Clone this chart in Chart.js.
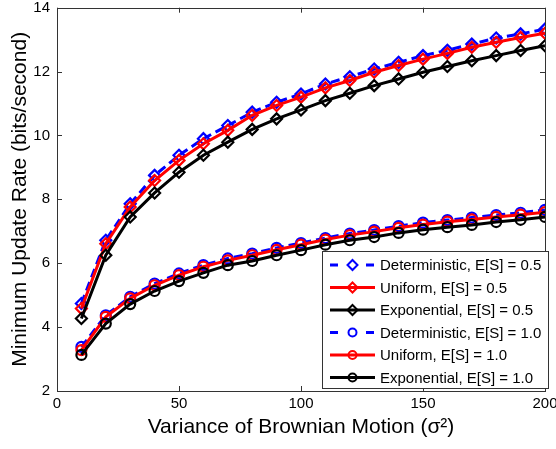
<!DOCTYPE html>
<html>
<head>
<meta charset="utf-8">
<script src="https://cdn.jsdelivr.net/npm/chart.js@4.4.1/dist/chart.umd.min.js"></script>
<style>
    html, body { margin: 0; padding: 0; background: #fff; }
    #box { width: 556px; height: 449px; }
</style>
</head>
<body>
<div id="box"><canvas id="grafico"></canvas></div>
<script>
// eixo x: variancia do movimento browniano
var variancia = [10, 20, 30, 40, 50, 60, 70, 80, 90, 100, 110, 120, 130, 140, 150, 160, 170, 180, 190, 200];

// E[S] = 0.5
var deterministico05 = [4.74, 6.72, 7.86, 8.75, 9.38, 9.90, 10.31, 10.73, 11.04, 11.30, 11.61, 11.84, 12.08, 12.29, 12.50, 12.67, 12.86, 13.05, 13.18, 13.33];
var uniforme05 = [4.58, 6.61, 7.76, 8.59, 9.22, 9.74, 10.16, 10.63, 10.94, 11.20, 11.49, 11.72, 11.98, 12.19, 12.39, 12.57, 12.76, 12.92, 13.07, 13.20];
var exponencial05 = [4.27, 6.25, 7.45, 8.20, 8.85, 9.38, 9.79, 10.19, 10.52, 10.80, 11.09, 11.32, 11.56, 11.77, 11.98, 12.16, 12.34, 12.50, 12.66, 12.81];

// E[S] = 1.0
var deterministico10 = [3.38, 4.37, 4.95, 5.36, 5.68, 5.94, 6.15, 6.30, 6.48, 6.63, 6.79, 6.93, 7.04, 7.16, 7.27, 7.35, 7.43, 7.51, 7.58, 7.67];
var uniforme10 = [3.28, 4.32, 4.90, 5.31, 5.63, 5.89, 6.09, 6.25, 6.42, 6.58, 6.74, 6.88, 6.99, 7.11, 7.21, 7.30, 7.37, 7.45, 7.52, 7.60];
var exponencial10 = [3.13, 4.11, 4.72, 5.13, 5.44, 5.70, 5.94, 6.07, 6.25, 6.41, 6.58, 6.72, 6.82, 6.95, 7.05, 7.13, 7.20, 7.29, 7.36, 7.45];

var legendas = [
    'Deterministic, E[S] = 0.5',
    'Uniform, E[S] = 0.5',
    'Exponential, E[S] = 0.5',
    'Deterministic, E[S] = 1.0',
    'Uniform, E[S] = 1.0',
    'Exponential, E[S] = 1.0'
];

var fonte = "'Liberation Sans', Arial, Helvetica, sans-serif";
var corEixo = '#333';

function pontos(arr) {
    return arr.map(function (v, i) { return { x: variancia[i], y: v }; });
}

function serie(label, dados, cor, marcador, tracejado, ordem) {
    return {
        label: label,
        data: pontos(dados),
        borderColor: cor,
        backgroundColor: 'rgba(0,0,0,0)',
        borderWidth: 3,
        borderDash: tracejado ? [9, 5] : [],
        pointStyle: marcador,
        pointRadius: marcador == 'circle' ? 5 : 5.5,
        pointBorderWidth: 2.2,
        pointBorderColor: cor,
        pointBackgroundColor: 'rgba(0,0,0,0)',
        tension: 0,
        order: ordem
    };
}

var datasets = [
    serie(legendas[0], deterministico05, '#0000ff', 'rectRot', true, 3),
    serie(legendas[1], uniforme05, '#ff0000', 'rectRot', false, 2),
    serie(legendas[2], exponencial05, '#000000', 'rectRot', false, 1),
    serie(legendas[3], deterministico10, '#0000ff', 'circle', true, 3),
    serie(legendas[4], uniforme10, '#ff0000', 'circle', false, 2),
    serie(legendas[5], exponencial10, '#000000', 'circle', false, 1)
];

function marcador(ctx, tipo, x, y, r) {
    ctx.beginPath();
    if (tipo == 'circle') {
        ctx.arc(x, y, r, 0, Math.PI * 2);
    } else {
        ctx.moveTo(x, y - r);
        ctx.lineTo(x + r, y);
        ctx.lineTo(x, y + r);
        ctx.lineTo(x - r, y);
        ctx.closePath();
    }
    ctx.stroke();
}

// tira a folga que o chart.js reserva para os rotulos das pontas
function semFolga(scale, tam) {
    if (scale.isHorizontal()) {
        scale.height = tam;
        scale.paddingLeft = 0;
        scale.paddingRight = 0;
    } else {
        scale.width = tam;
        scale.paddingTop = 0;
        scale.paddingBottom = 0;
    }
}

// caixa do grafico, ticks para dentro e legenda no estilo matlab
var moldura = {
    id: 'moldura',
    afterDraw: function (chart) {
        var ctx = chart.ctx;
        var a = chart.chartArea;
        var sx = chart.scales.x;
        var sy = chart.scales.y;

        ctx.save();
        ctx.strokeStyle = corEixo;
        ctx.lineWidth = 1;
        ctx.setLineDash([]);
        ctx.strokeRect(Math.round(a.left) + 0.5, Math.round(a.top) + 0.5, Math.round(a.right - a.left), Math.round(a.bottom - a.top));

        ctx.beginPath();
        sx.ticks.forEach(function (t) {
            var px = Math.round(sx.getPixelForValue(t.value)) + 0.5;
            ctx.moveTo(px, a.bottom); ctx.lineTo(px, a.bottom - 5);
            ctx.moveTo(px, a.top); ctx.lineTo(px, a.top + 5);
        });
        sy.ticks.forEach(function (t) {
            var py = Math.round(sy.getPixelForValue(t.value)) + 0.5;
            ctx.moveTo(a.left, py); ctx.lineTo(a.left + 5, py);
            ctx.moveTo(a.right, py); ctx.lineTo(a.right - 5, py);
        });
        ctx.stroke();

        // legenda
        var lx = 322, ly = 251, lw = 226, lh = 137;
        ctx.fillStyle = '#fff';
        ctx.fillRect(lx, ly, lw, lh);
        ctx.strokeStyle = corEixo;
        ctx.strokeRect(lx + 0.5, ly + 0.5, lw, lh);

        ctx.font = '15px ' + fonte;
        ctx.textBaseline = 'middle';
        ctx.textAlign = 'left';
        chart.data.datasets.forEach(function (ds, i) {
            var cy = ly + 14 + i * 22.5;
            ctx.strokeStyle = ds.borderColor;
            ctx.lineWidth = 3;
            ctx.setLineDash(ds.borderDash.length ? [8, 28] : []);
            ctx.beginPath();
            ctx.moveTo(330, cy);
            ctx.lineTo(375, cy);
            ctx.stroke();
            ctx.setLineDash([]);
            ctx.lineWidth = 2;
            marcador(ctx, ds.pointStyle, 352.5, cy, ds.pointStyle == 'circle' ? 4 : 5);
            ctx.fillStyle = '#000';
            ctx.fillText(ds.label, 380, cy + 1);
        });
        ctx.restore();
    }
};

var ctx = document.getElementById('grafico').getContext('2d');
window.grafico = new Chart(ctx, {
    type: 'line',
    data: { datasets: datasets },
    plugins: [moldura],
    options: {
        responsive: true,
        maintainAspectRatio: false,
        animation: false,
        layout: { padding: { top: 7, right: 11, left: 0, bottom: 0 } },
        plugins: {
            legend: { display: false },
            tooltip: { enabled: false }
        },
        scales: {
            x: {
                type: 'linear',
                min: 0,
                max: 200,
                afterFit: function (scale) { semFolga(scale, 58); },
                ticks: { stepSize: 50, color: '#000', padding: 4, font: { family: fonte, size: 15 } },
                grid: { display: false, drawTicks: false },
                border: { display: false },
                title: {
                    display: true,
                    text: 'Variance of Brownian Motion (σ²)',
                    color: '#000',
                    font: { family: fonte, size: 21 },
                    padding: { top: 0, bottom: 9 }
                }
            },
            y: {
                min: 2,
                max: 14,
                afterFit: function (scale) { semFolga(scale, 57); },
                ticks: { stepSize: 2, color: '#000', padding: 7, font: { family: fonte, size: 15 } },
                grid: { display: false, drawTicks: false },
                border: { display: false },
                title: {
                    display: true,
                    text: 'Minimum Update Rate (bits/second)',
                    color: '#000',
                    font: { family: fonte, size: 21 },
                    padding: { top: 8, bottom: 0 }
                }
            }
        }
    }
});
</script>
</body>
</html>
